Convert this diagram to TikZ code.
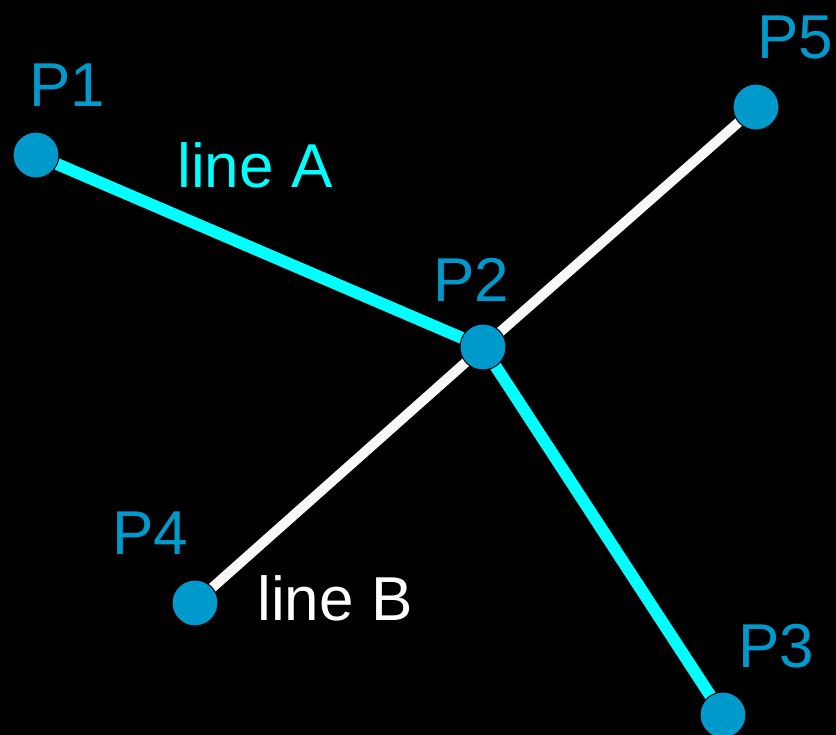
\documentclass[tikz,border=0pt]{standalone}
\usepackage{fontspec}
\setmainfont{Liberation Sans}
\usetikzlibrary{positioning}
\definecolor{dotblue}{HTML}{0099CC}
\definecolor{lineA}{HTML}{00FFFF}
\definecolor{lineB}{HTML}{F8F8F8}
\tikzset{
    % Point styles
    point/.style={circle, draw=black, line width=1pt, fill=dotblue, minimum size=46pt, inner sep=0pt},
    plabel/.style={text=dotblue, inner sep=0pt, font=\fontsize{62}{70}\selectfont},
    % Line styles
    line a/.style={lineA, line width=12pt},
    line b/.style={lineB, line width=10pt},
    lname/.style={inner sep=0pt, font=\fontsize{62}{70}\selectfont},
}
\begin{document}
\begin{tikzpicture}[x=1pt, y=-1pt]
    \fill[black] (0,0) rectangle (836,735);
    \clip (0,0) rectangle (836,735);

    % Points
    \coordinate (c1) at (36, 155);
    \coordinate (c2) at (483, 347);
    \coordinate (c3) at (723, 715);
    \coordinate (c4) at (195, 603);
    \coordinate (c5) at (756, 107);

    % Lines
    \draw[line b] (c4) -- (c2) -- (c5);
    \draw[line a] (c1) -- (c2) -- (c3);

    \node[point] (p1) at (c1) {};
    \node[point] (p2) at (c2) {};
    \node[point] (p3) at (c3) {};
    \node[point] (p4) at (c4) {};
    \node[point] (p5) at (c5) {};

    % Labels
    \node[plabel] (l1) at (67, 85) {P1};
    \node[plabel] (l2) at (471, 280) {P2};
    \node[plabel] (l3) at (776, 646) {P3};
    \node[plabel] (l4) at (150, 533) {P4};
    \node[plabel] (l5) at (795, 37) {P5};
    \node[lname, text=lineA] (na) at (255, 165) {line A};
    \node[lname, text=white] (nb) at (335, 598) {line B};
\end{tikzpicture}
\end{document}
